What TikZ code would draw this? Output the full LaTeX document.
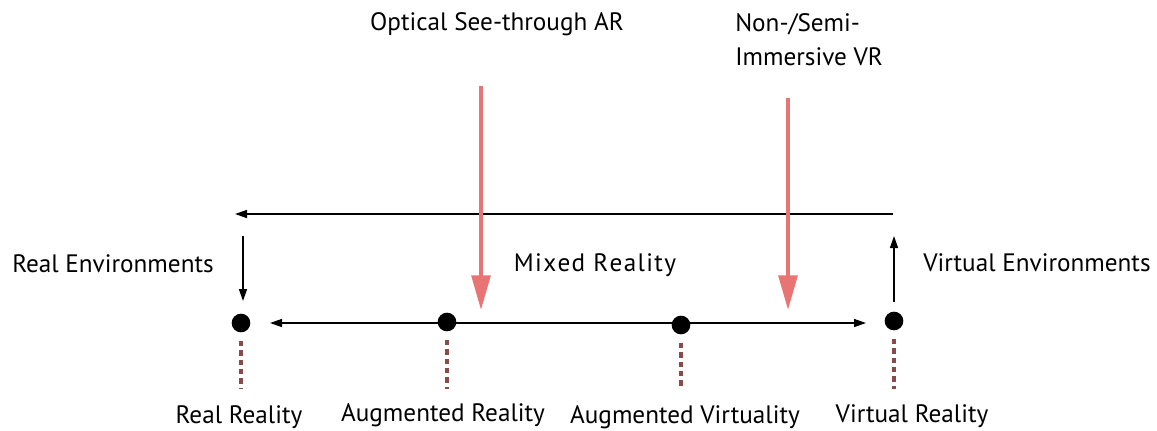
\documentclass[tikz,border=0pt]{standalone}
\usepackage{fontspec}
\setmainfont{PT Sans}
\usetikzlibrary{arrows.meta}
\definecolor{pinkarrow}{HTML}{E87474}
\definecolor{dotline}{HTML}{8B4A4A}
\begin{document}
\begin{tikzpicture}[x=0.75pt,y=-0.75pt,
  lbl/.style={font=\fontsize{18.9}{22}\selectfont, inner sep=0pt},
  pt/.style={circle, fill=black, minimum size=14pt, inner sep=0pt},
  blk/.style={draw=black, line width=1.1pt, -{Triangle[length=9pt,width=6pt]}},
  pnk/.style={draw=pinkarrow, line width=3pt, -{Triangle[length=26pt,width=14pt]}},
  dtl/.style={draw=dotline, line width=3pt, dash pattern=on 4pt off 3pt}]
\useasboundingbox (0,0) rectangle (1157,430);
% dots
\node[pt] (rr) at (241,323) {};
\node[pt] (ar) at (447,322) {};
\node[pt] (av) at (681,325) {};
\node[pt] (vr) at (894,321) {};
% coordinates
\coordinate (topR) at (893,214);
\coordinate (topL) at (235,214);
\coordinate (dnS) at (243,236);
\coordinate (dnE) at (243,301);
\coordinate (upS) at (894,302);
\coordinate (upE) at (894,236);
\coordinate (bL) at (270,323);
\coordinate (bR) at (866,323);
\coordinate (p1s) at (481,86);
\coordinate (p1e) at (481,310);
\coordinate (p2s) at (788,98);
\coordinate (p2e) at (788,310);
% black arrows
\draw[blk] (topR) -- (topL);
\draw[blk] (dnS) -- (dnE);
\draw[blk] (upS) -- (upE);
\draw[blk, {Triangle[length=9pt,width=6pt]}-{Triangle[length=9pt,width=6pt]}] (bL) -- (bR);
% dotted lines
\coordinate (rrd1) at (241,341); \coordinate (rrd2) at (241,389);
\coordinate (ard1) at (447,340); \coordinate (ard2) at (447,389);
\coordinate (avd1) at (681,343); \coordinate (avd2) at (681,389);
\coordinate (vrd1) at (894,339); \coordinate (vrd2) at (894,389);
\draw[dtl] (rrd1) -- (rrd2);
\draw[dtl] (ard1) -- (ard2);
\draw[dtl] (avd1) -- (avd2);
\draw[dtl] (vrd1) -- (vrd2);
% pink arrows
\draw[pnk] (p1s) -- (p1e);
\draw[pnk] (p2s) -- (p2e);
% labels
\node[lbl] (ost) at (497,24) {Optical See-through AR};
\node[lbl, anchor=west] (nsi1) at (735,24) {Non-/Semi-};
\node[lbl, anchor=west] (nsi2) at (735,57) {Immersive VR};
\node[lbl, anchor=west] (re) at (12,264) {Real Environments};
\node[lbl] (mr) at (595,265) {M\kern1pt i\kern1pt x\kern1pt e\kern1pt d\kern1pt\ R\kern1pt e\kern1pt a\kern1pt l\kern1pt i\kern1pt t\kern1pt y};
\node[lbl, anchor=west] (ve) at (923,263) {Virtual Environments};
\node[lbl] (lrr) at (239,417) {Real Reality};
\node[lbl] (lar) at (443,415) {Augmented Reality};
\node[lbl] (lav) at (685,417) {Augmented Virtuality};
\node[lbl] (lvr) at (912,416) {Virtual Reality};
\end{tikzpicture}
\end{document}
